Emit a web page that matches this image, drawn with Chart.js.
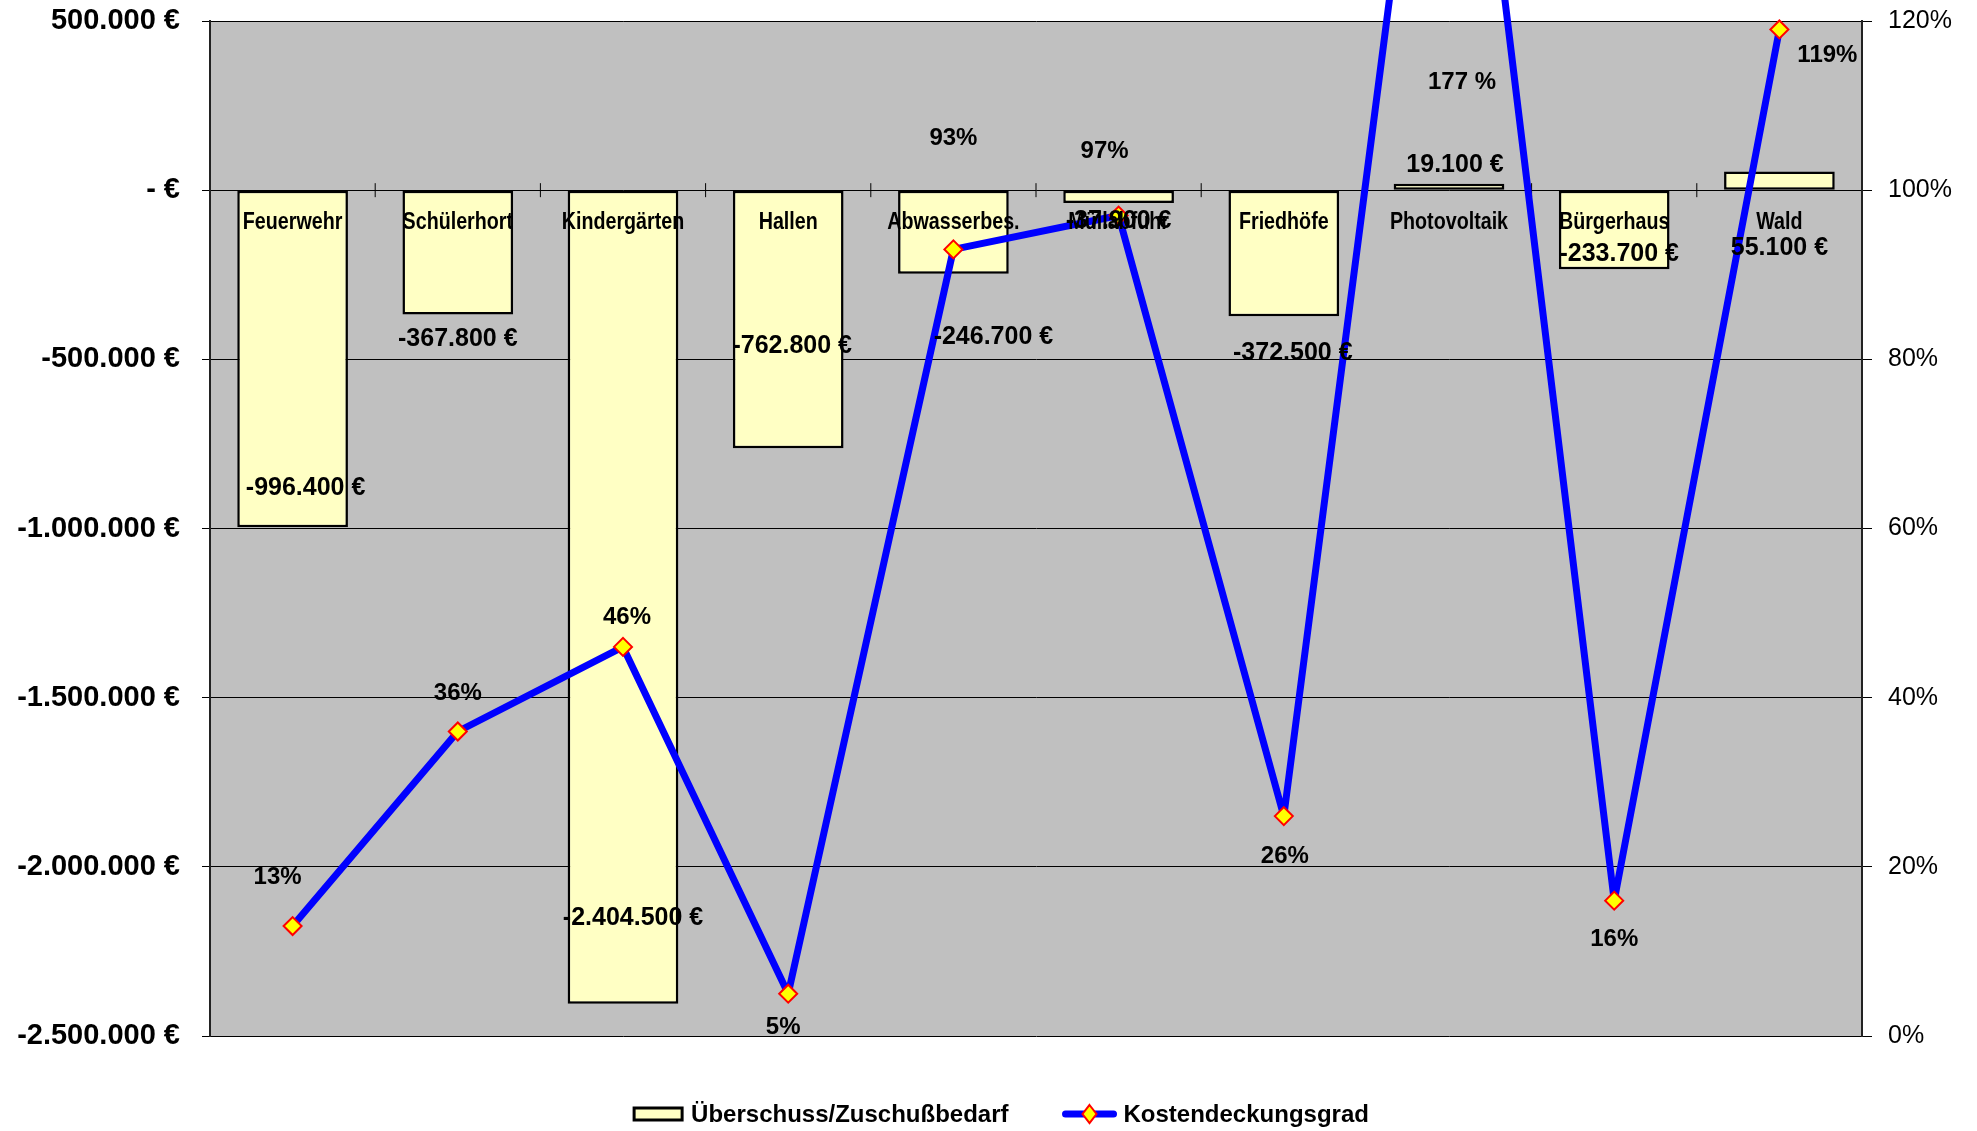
<!DOCTYPE html>
<html>
<head>
<meta charset="utf-8">
<script src="https://cdn.jsdelivr.net/npm/chart.js@4.4.0/dist/chart.umd.min.js"></script>
<style>
  body { margin: 0; background: #fff; }
</style>
</head>
<body>
<canvas id="myChart" width="1977" height="1131"></canvas>
<script>
const categories = ["Feuerwehr", "Schülerhort", "Kindergärten", "Hallen", "Abwasserbes.", "Müllabfuhr", "Friedhöfe", "Photovoltaik", "Bürgerhaus", "Wald"];
const balance = [-996400, -367800, -2404500, -762800, -246700, -37900, -372500, 19100, -233700, 55100];
const coverage = [13, 36, 46, 5, 93, 97, 26, 177, 16, 119];
const coverageText = ["13%", "36%", "46%", "5%", "93%", "97%", "26%", "177 %", "16%", "119%"];
const moneyTicks = [500000, 0, -500000, -1000000, -1500000, -2000000, -2500000];
const percentTicks = [0, 20, 40, 60, 80, 100, 120];

// where the data labels sit, relative to bar end / point (px), like in the original
const balanceLabelShift = [[13, -39], [0, 25], [10, -86], [4, -102], [40, 63], [0, 18], [9, 37], [6, -19], [5, -15], [0, 77]];
const coverageLabelShift = [[-15, -49], [0, -38], [4, -30], [-5, 34], [0, -111], [-14, -64], [1, 40], [13, 61], [0, 39], [48, 26]];

function money(v) {
  if (v === 0) return "- €";
  return v.toLocaleString("de-DE") + " €";
}

const SANS = "'Liberation Sans', Arial, sans-serif";

// no narrow font here, so squeeze the normal one
function fillNarrow(ctx, text, x, y) {
  ctx.save();
  ctx.translate(x, y);
  ctx.scale(0.82, 1);
  ctx.fillText(text, 0, 0);
  ctx.restore();
}

const plotBackground = {
  id: "plotBackground",
  beforeDraw(chart) {
    const { ctx, chartArea: a } = chart;
    ctx.save();
    ctx.fillStyle = "#C0C0C0";
    ctx.fillRect(a.left, a.top, a.right - a.left, a.bottom - a.top);
    ctx.restore();
  }
};

// little ticks between the categories on the zero line
const zeroLineTicks = {
  id: "zeroLineTicks",
  beforeDatasetsDraw(chart) {
    const { ctx, scales: { x, y } } = chart;
    const y0 = y.getPixelForValue(0);
    ctx.save();
    ctx.strokeStyle = "#000";
    ctx.lineWidth = 1;
    for (let i = 1; i < categories.length; i++) {
      const px = (x.getPixelForValue(i - 1) + x.getPixelForValue(i)) / 2;
      ctx.beginPath();
      ctx.moveTo(px, y0 - 7);
      ctx.lineTo(px, y0 + 7);
      ctx.stroke();
    }
    ctx.restore();
  }
};

const labelsAndLegend = {
  id: "labelsAndLegend",
  afterDraw(chart) {
    const { ctx, scales: { y }, chartArea: a } = chart;
    const bars = chart.getDatasetMeta(0).data;
    const points = chart.getDatasetMeta(1).data;
    const y0 = y.getPixelForValue(0);
    ctx.save();
    ctx.fillStyle = "#000";
    ctx.textAlign = "center";
    ctx.textBaseline = "middle";

    ctx.font = "bold 24px " + SANS;
    bars.forEach((bar, i) => fillNarrow(ctx, categories[i], bar.x, y0 + 32));

    ctx.font = "bold 25px " + SANS;
    bars.forEach((bar, i) => {
      const [dx, dy] = balanceLabelShift[i];
      ctx.fillText(money(balance[i]), bar.x + dx, bar.y + dy);
    });

    ctx.font = "bold 24px " + SANS;
    points.forEach((pt, i) => {
      const [dx, dy] = coverageLabelShift[i];
      ctx.fillText(coverageText[i], pt.x + dx, Math.max(pt.y, a.top) + dy);
    });

    // legend
    const barSet = chart.data.datasets[0];
    const lineSet = chart.data.datasets[1];
    ctx.font = "bold 24px " + SANS;
    ctx.textAlign = "left";
    const w1 = ctx.measureText(barSet.label).width;
    const w2 = ctx.measureText(lineSet.label).width;
    const total = 48 + 9 + w1 + 54 + 54 + 7 + w2;
    let lx = chart.width / 2 - total / 2 + 13;
    const ly = a.bottom + 78;

    ctx.fillStyle = barSet.backgroundColor;
    ctx.fillRect(lx, ly - 6, 48, 12);
    ctx.strokeStyle = "#000";
    ctx.lineWidth = 3;
    ctx.strokeRect(lx, ly - 6, 48, 12);
    lx += 48 + 9;
    ctx.fillStyle = "#000";
    ctx.fillText(barSet.label, lx, ly + 1);
    lx += w1 + 54;

    ctx.strokeStyle = lineSet.borderColor;
    ctx.lineWidth = lineSet.borderWidth;
    ctx.lineCap = "round";
    ctx.beginPath();
    ctx.moveTo(lx + 3, ly);
    ctx.lineTo(lx + 51, ly);
    ctx.stroke();
    const cx = lx + 27;
    ctx.beginPath();
    ctx.moveTo(cx, ly - 9);
    ctx.lineTo(cx + 7, ly);
    ctx.lineTo(cx, ly + 9);
    ctx.lineTo(cx - 7, ly);
    ctx.closePath();
    ctx.fillStyle = lineSet.pointBackgroundColor;
    ctx.fill();
    ctx.strokeStyle = lineSet.pointBorderColor;
    ctx.lineWidth = 2;
    ctx.stroke();
    lx += 54 + 7;
    ctx.fillStyle = "#000";
    ctx.fillText(lineSet.label, lx, ly + 1);
    ctx.restore();
  }
};

const ctx = document.getElementById("myChart").getContext("2d");
Chart.defaults.color = "#000";

// the tick padding would otherwise push the plot down
function fitAxis(width) {
  return (scale) => {
    scale.width = width;
    scale.paddingTop = 0;
    scale.paddingBottom = 0;
  };
}

const myChart = new Chart(ctx, {
  data: {
    labels: categories,
    datasets: [
      {
        type: "bar",
        label: "Überschuss/Zuschußbedarf",
        data: balance,
        yAxisID: "y",
        backgroundColor: "#FFFFC4",
        borderColor: "#000",
        borderWidth: 2.5,
        borderSkipped: false,
        barPercentage: 0.67,
        categoryPercentage: 1,
        order: 2
      },
      {
        type: "line",
        label: "Kostendeckungsgrad",
        data: coverage,
        yAxisID: "y1",
        borderColor: "#0000FF",
        borderWidth: 7,
        borderJoinStyle: "round",
        tension: 0,
        pointStyle: "rectRot",
        pointRadius: 9,
        pointBackgroundColor: "#FFFF00",
        pointBorderColor: "#FF0000",
        pointBorderWidth: 2,
        clip: false,
        order: 1
      }
    ]
  },
  options: {
    responsive: false,
    animation: false,
    layout: { padding: { top: 21, bottom: 95, left: 0, right: 0 } },
    plugins: {
      legend: { display: false },
      tooltip: { enabled: false }
    },
    scales: {
      x: {
        type: "category",
        display: false
      },
      y: {
        position: "left",
        min: -2500000,
        max: 500000,
        afterBuildTicks: (scale) => { scale.ticks = moneyTicks.map((v) => ({ value: v })); },
        afterFit: fitAxis(210),
        ticks: {
          padding: 22,
          font: { family: SANS, size: 29, weight: "bold" },
          callback: (v) => money(v)
        },
        grid: { color: "#000", lineWidth: 1, tickLength: 8 },
        border: { display: true, color: "#222", width: 2 }
      },
      y1: {
        position: "right",
        min: 0,
        max: 120,
        afterBuildTicks: (scale) => { scale.ticks = percentTicks.map((v) => ({ value: v })); },
        afterFit: fitAxis(115),
        ticks: {
          padding: 16,
          font: { family: SANS, size: 25 },
          callback: (v) => v + "%"
        },
        grid: { drawOnChartArea: false, color: "#000", tickLength: 10 },
        border: { display: true, color: "#222", width: 2 }
      }
    }
  },
  plugins: [plotBackground, zeroLineTicks, labelsAndLegend]
});
myChart.update();
</script>
</body>
</html>
